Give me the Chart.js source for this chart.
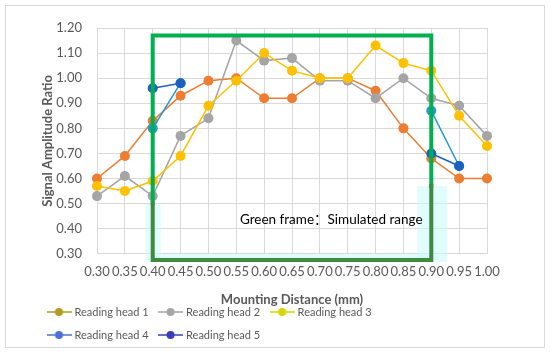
<!DOCTYPE html>
<html>
<head>
<meta charset="utf-8">
<script src="https://cdn.jsdelivr.net/npm/chart.js@4"></script>
<style>
  html, body { margin: 0; padding: 0; background: #fff; }
  #wrap { width: 550px; height: 353px; }
</style>
</head>
<body>
<div id="wrap"><canvas id="myChart" width="550" height="353"></canvas></div>
<script>
const distances = ["0.30", "0.35", "0.40", "0.45", "0.50", "0.55", "0.60", "0.65",
  "0.70", "0.75", "0.80", "0.85", "0.90", "0.95", "1.00"];

const head1 = [0.60, 0.69, 0.83, 0.93, 0.99, 1.00, 0.92, 0.92, 1.00, 1.00, 0.95, 0.80, 0.68, 0.60, 0.60];
const head2 = [0.53, 0.61, 0.53, 0.77, 0.84, 1.15, 1.07, 1.08, 0.99, 0.99, 0.92, 1.00, 0.92, 0.89, 0.77];
const head3 = [0.57, 0.55, 0.59, 0.69, 0.89, 0.99, 1.10, 1.03, 1.00, 1.00, 1.13, 1.06, 1.03, 0.85, 0.73];
const head4 = [null, null, 0.80, 0.98, null, null, null, null, null, null, null, null, 0.87, 0.65, null];
const head5 = [null, null, 0.96, 0.98, null, null, null, null, null, null, null, null, 0.70, 0.65, null];

const names = ["Reading head 1", "Reading head 2", "Reading head 3", "Reading head 4", "Reading head 5"];
const lineColors = ["#ED7D31", "#A5A5A5", "#FFC000", "#1F9AD6", "#1B62C0"];
const legendColors = ["#B09A20", "#A5A5A5", "#D6D600", "#4A72D6", "#3A3CB8"];

// frame around the simulated range (category index from/to, value from/to)
const frameX = [2, 12];
const frameY = [0.275, 1.17];

function legendIcon(color) {
  const c = document.createElement("canvas");
  c.width = 25; c.height = 10;
  const g = c.getContext("2d");
  g.strokeStyle = color;
  g.lineWidth = 1.5;
  g.beginPath(); g.moveTo(0, 5); g.lineTo(25, 5); g.stroke();
  g.fillStyle = color;
  g.beginPath(); g.arc(12.5, 5, 4, 0, Math.PI * 2); g.fill();
  return c;
}
const icons = legendColors.map(legendIcon);

const greenFrame = {
  id: "greenFrame",
  afterLayout(chart) {
    // excel-like legend: rows start near the left edge, just under the axis title
    const lg = chart.legend;
    const dx = 37 - lg.left;
    const dy = 294.5 - lg.top;
    lg.left += dx; lg.right += dx;
    lg.top += dy; lg.bottom += dy;
  },
  beforeDraw(chart) {
    const ctx = chart.ctx;
    ctx.save();
    ctx.strokeStyle = "#D9D9D9";
    ctx.lineWidth = 1;
    ctx.strokeRect(5.5, 5.5, 539, 342);
    ctx.restore();
  },
  beforeDatasetsDraw(chart) {
    const { ctx, scales: { x, y } } = chart;
    const l = x.getPixelForValue(frameX[0]);
    const r = x.getPixelForValue(frameX[1]);
    const b = y.getPixelForValue(frameY[0]);
    ctx.save();
    ctx.fillStyle = "rgba(200, 250, 250, 0.55)";
    ctx.fillRect(l - 7, y.getPixelForValue(0.50), 15, b - y.getPixelForValue(0.50) + 2);
    ctx.fillRect(r - 14, y.getPixelForValue(0.57), 30, b - y.getPixelForValue(0.57) + 2);
    ctx.fillRect(l, b - 6, r - l, 6);
    ctx.restore();
  },
  afterDatasetsDraw(chart) {
    const { ctx, scales: { x, y } } = chart;
    const l = x.getPixelForValue(frameX[0]);
    const r = x.getPixelForValue(frameX[1]);
    const t = y.getPixelForValue(frameY[1]);
    const b = y.getPixelForValue(frameY[0]);
    const ml = y.getPixelForValue(0.50);
    const mr = y.getPixelForValue(0.57);
    ctx.save();
    ctx.lineWidth = 4;
    ctx.lineCap = "square";
    ctx.strokeStyle = "#00B050";
    ctx.beginPath();
    ctx.moveTo(l, ml); ctx.lineTo(l, t); ctx.lineTo(r, t); ctx.lineTo(r, mr);
    ctx.stroke();
    ctx.strokeStyle = "#3E8A3E";
    ctx.beginPath();
    ctx.moveTo(l, ml); ctx.lineTo(l, b); ctx.lineTo(r, b); ctx.lineTo(r, mr);
    ctx.stroke();
    ctx.fillStyle = "#000";
    ctx.font = "13.5px Lato, 'Noto Sans CJK SC'";
    ctx.textBaseline = "middle";
    ctx.fillText("Green frame：Simulated range", x.getPixelForValue(5.13), y.getPixelForValue(0.438));
    ctx.restore();
  }
};

const series = [head1, head2, head3, head4, head5];

new Chart(document.getElementById("myChart"), {
  type: "line",
  data: {
    labels: distances,
    datasets: series.map((data, i) => ({
      label: names[i],
      data,
      order: series.length - i,
      borderColor: lineColors[i],
      backgroundColor: lineColors[i],
      borderWidth: 1.5,
      pointRadius: 5,
      pointHoverRadius: 5,
      pointBorderWidth: 0,
      spanGaps: false,
    })),
  },
  options: {
    responsive: false,
    animation: false,
    layout: { padding: { left: 36, right: 63, top: 28, bottom: -11 } },
    plugins: {
      tooltip: { enabled: false },
      legend: {
        position: "bottom",
        align: "start",
        fullSize: false,
        labels: {
          usePointStyle: true,
          pointStyleWidth: 20,
          boxHeight: 10,
          padding: 12,
          color: "#595959",
          font: { family: "Lato", size: 11 },
          generateLabels: (chart) => chart.data.datasets.map((ds, i) => ({
            text: ds.label,
            pointStyle: icons[i],
            fillStyle: legendColors[i],
            strokeStyle: legendColors[i],
            lineWidth: 0,
            fontColor: "#595959",
            datasetIndex: i,
            hidden: false,
          })),
        },
      },
    },
    scales: {
      x: {
        offset: false,
        grid: { color: "#D9D9D9", drawTicks: false },
        border: { display: false },
        ticks: { color: "#595959", padding: 10, maxRotation: 0, autoSkip: false,
          font: { family: "Lato", size: 13 } },
        title: { display: true, text: "Mounting Distance (mm)", color: "#595959",
          padding: { top: 3, bottom: 0 }, font: { family: "Lato", size: 13, weight: "bold" } },
      },
      y: {
        min: 0.3,
        max: 1.2,
        afterFit: (s) => { s.width = 61; },
        grid: { color: "#D9D9D9", drawTicks: false },
        border: { display: false },
        ticks: { stepSize: 0.1, color: "#595959", padding: 15,
          font: { family: "Lato", size: 13 },
          callback: (v) => Number(v).toFixed(2) },
        title: { display: true, text: "Signal Amplitude Ratio", color: "#595959",
          padding: { top: 4, bottom: 4 }, font: { family: "Lato", size: 13, weight: "bold" } },
      },
    },
  },
  plugins: [greenFrame],
});
</script>
</body>
</html>
